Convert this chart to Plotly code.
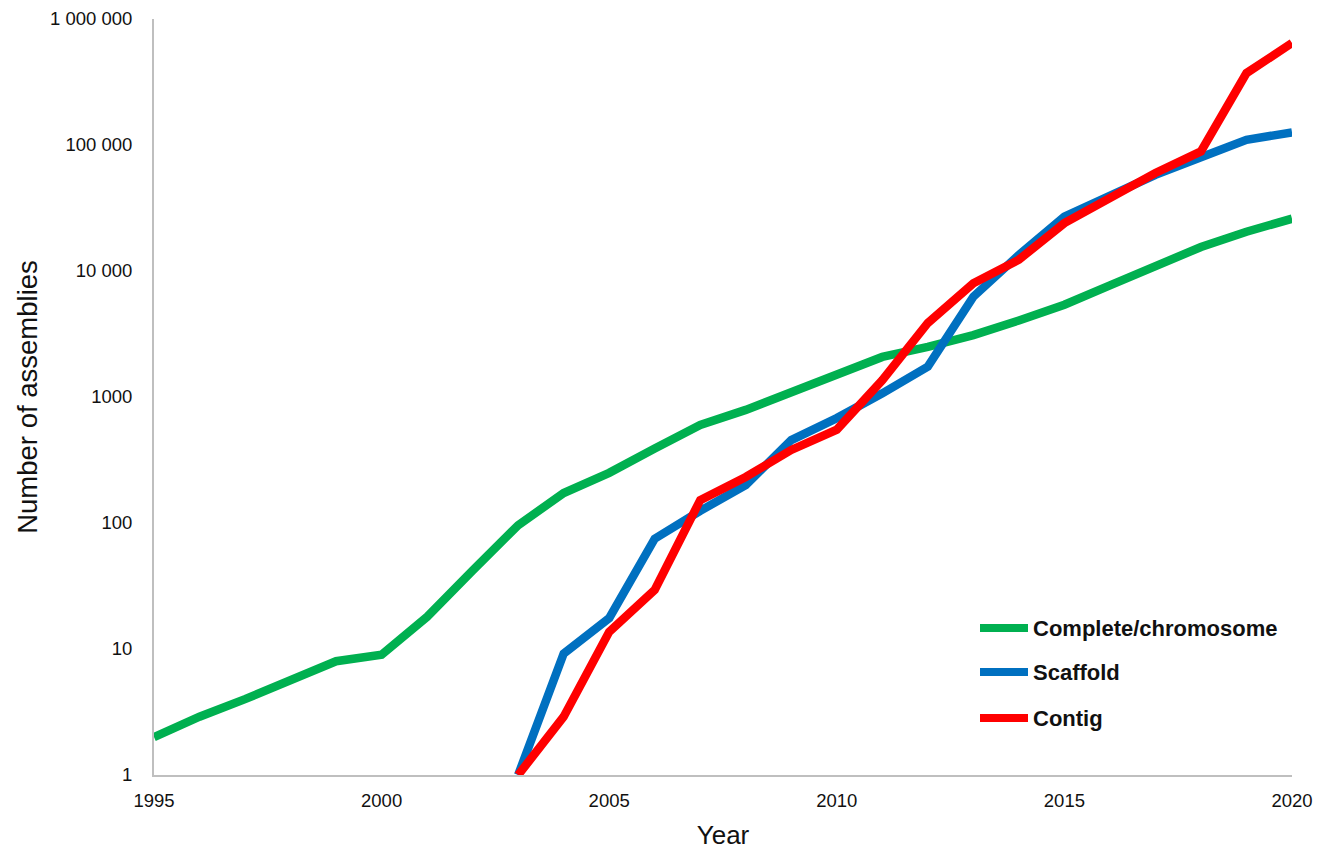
import plotly.graph_objects as go

years = list(range(1995, 2021))
complete_chromosome = [2, 2.9, 4, 5.6, 8, 9, 18, 42, 96, 173, 250, 390, 600, 790, 1100, 1520,
                       2080, 2500, 3100, 4050, 5400, 7700, 11000, 15500, 20500, 26000]
scaffold_years = list(range(2003, 2021))
scaffold = [1, 9.2, 17.6, 75, 125, 200, 455, 680, 1070, 1740, 6250, 13400, 27000, 40000,
            58000, 80000, 110000, 126000]
contig_years = list(range(2003, 2021))
contig = [1, 2.9, 13.7, 29.4, 152, 232, 380, 550, 1360, 3870, 8000, 12300, 24000, 38000,
          60000, 89000, 372000, 645000]

series_names = ["Complete/chromosome", "Scaffold", "Contig"]
colors = ["#00B050", "#0070C0", "#FF0000"]

y_tickvals = [1, 10, 100, 1000, 10000, 100000, 1000000]
y_ticktext = ["1", "10", "100", "1000", "10 000", "100 000", "1 000 000"]
x_tickvals = [1995, 2000, 2005, 2010, 2015, 2020]

fig = go.Figure()
for xs, ys, name, c in [(years, complete_chromosome, series_names[0], colors[0]),
                        (scaffold_years, scaffold, series_names[1], colors[1]),
                        (contig_years, contig, series_names[2], colors[2])]:
    fig.add_trace(go.Scatter(x=xs, y=ys, mode="lines", name=name,
                             line=dict(color=c, width=8.5), showlegend=False))

# manual legend
L, R, T, B = 154, 1292, 19, 775
W, H = R - L, B - T
legend_rows = [628, 672, 718]
for name, c, py in zip(series_names, colors, legend_rows):
    yp = (B - py) / H
    fig.add_shape(type="line", xref="paper", yref="paper",
                  x0=(980 - L) / W, x1=(1028 - L) / W, y0=yp, y1=yp,
                  line=dict(color=c, width=8))
    fig.add_annotation(xref="paper", yref="paper", x=(1031 - L) / W, y=yp,
                       xanchor="left", yanchor="middle", showarrow=False,
                       text="<b>" + name + "</b>",
                       font=dict(family="Liberation Sans, Arial", size=22, color="#111111"))

fig.update_layout(
    width=1342, height=850,
    margin=dict(l=L, r=1342 - R, t=T, b=850 - B),
    paper_bgcolor="white", plot_bgcolor="white",
    font=dict(family="Liberation Sans, Arial", size=18.5, color="#111111"),
    xaxis=dict(range=[1995, 2020], tickvals=x_tickvals, showgrid=False, zeroline=False,
               showline=True, linecolor="#BFBFBF", linewidth=2, ticks="",
               ticklabelstandoff=8, automargin=False,
               title=dict(text="Year", font=dict(size=26), standoff=16)),
    yaxis=dict(type="log", range=[0, 6], tickvals=y_tickvals, ticktext=y_ticktext,
               showgrid=False, zeroline=False, showline=True, linecolor="#BFBFBF",
               linewidth=2, ticks="", ticklabelstandoff=16, automargin=False,
               title=dict(text="Number of assemblies", font=dict(size=27.5), standoff=4)),
)

fig.write_html("out.html")
